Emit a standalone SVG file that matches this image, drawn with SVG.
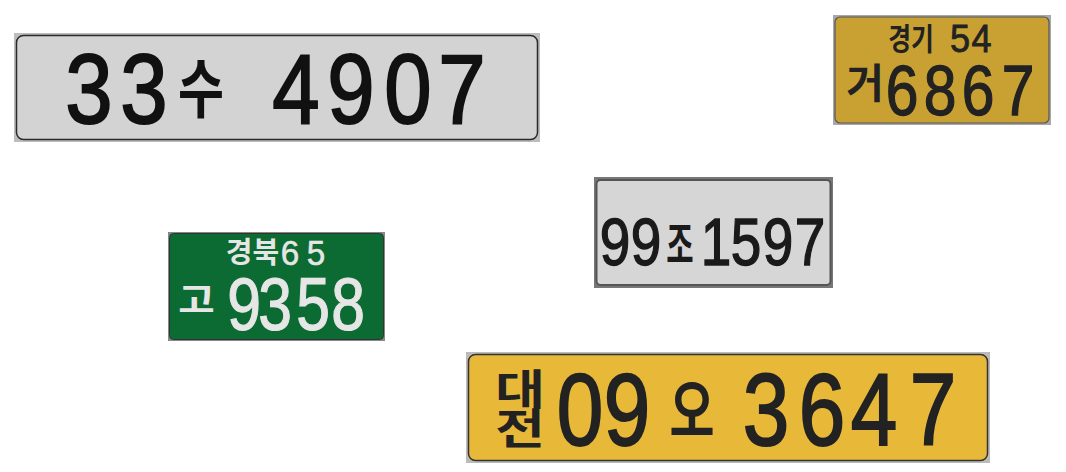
<svg xmlns="http://www.w3.org/2000/svg" width="1066" height="472" viewBox="0 0 1066 472">
<style>
.d{font-family:"Liberation Sans",Arial,sans-serif;text-anchor:middle}
.k{font-family:"Noto Sans CJK KR","Noto Sans",sans-serif;text-anchor:middle;font-weight:500}
.kb{font-family:"Noto Sans CJK KR","Noto Sans",sans-serif;text-anchor:middle;font-weight:700}
</style>
<rect width="1066" height="472" fill="#ffffff"/>
<g id="plate1">
<rect x="14" y="33" width="526" height="109" fill="#bdbdbd"/>
<rect x="16.5" y="35.5" width="521" height="104" rx="7" fill="#d3d3d3" stroke="#2a2a2a" stroke-width="1.5"/>
<g fill="#111" stroke="#111" stroke-width="2" font-size="99">
<text class="d" transform="matrix(0.86 0 0 1 89 123)">3</text>
<text class="d" transform="matrix(0.86 0 0 1 144 123)">3</text>
<text class="kb" font-size="64" stroke-width="0" transform="matrix(0.78 0 0 1 201 112)">수</text>
<text class="d" transform="matrix(0.86 0 0 1 296 123)">4</text>
<text class="d" transform="matrix(0.86 0 0 1 351 123)">9</text>
<text class="d" transform="matrix(0.86 0 0 1 408 123)">0</text>
<text class="d" transform="matrix(0.86 0 0 1 462 123)">7</text>
</g>
</g>
<g id="plate2">
<rect x="833" y="15" width="218" height="110" fill="#a8a8a8"/>
<rect x="835" y="17" width="214" height="106" rx="5" fill="#c9a133" stroke="#555" stroke-width="1.2"/>
<g fill="#222" stroke="#222">
<text class="kb" font-size="31" stroke-width="0" transform="matrix(0.8 0 0 1 911 50)">경기</text>
<text class="d" font-size="38" stroke-width="0.8" transform="matrix(0.95 0 0 1 960 52)">5</text>
<text class="d" font-size="38" stroke-width="0.8" transform="matrix(0.95 0 0 1 981.5 52)">4</text>
<text class="kb" font-size="41" stroke-width="0" transform="matrix(1 0 0 1 865 98)">거</text>
<g font-size="70" stroke-width="1.3">
<text class="d" transform="matrix(0.84 0 0 1 902 115)">6</text>
<text class="d" transform="matrix(0.84 0 0 1 940 115)">8</text>
<text class="d" transform="matrix(0.84 0 0 1 978 115)">6</text>
<text class="d" transform="matrix(0.84 0 0 1 1018 115)">7</text>
</g>
</g>
</g>
<g id="plate3">
<rect x="168" y="232" width="217" height="109" fill="#888"/>
<rect x="169.5" y="233.5" width="214" height="106" rx="4" fill="#0b6b32" stroke="#333" stroke-width="1"/>
<g fill="#e6e6e6" stroke="#e6e6e6">
<text class="kb" font-size="29" stroke-width="0" transform="matrix(1 0 0 1 252.5 263)">경북</text>
<text class="d" font-size="35" stroke-width="0.6" transform="matrix(0.95 0 0 1 290 265)">6</text>
<text class="d" font-size="35" stroke-width="0.6" transform="matrix(0.95 0 0 1 316 265)">5</text>
<text class="kb" font-size="44" stroke-width="0" transform="matrix(0.9 0 0 0.8 196.5 313)">고</text>
<g font-size="74" stroke-width="1.2">
<text class="d" transform="matrix(0.82 0 0 1 244 330)">9</text>
<text class="d" transform="matrix(0.82 0 0 1 275 330)">3</text>
<text class="d" transform="matrix(0.82 0 0 1 313 330)">5</text>
<text class="d" transform="matrix(0.82 0 0 1 348 330)">8</text>
</g>
</g>
</g>
<g id="plate4">
<rect x="594" y="177" width="239" height="111" fill="#777"/>
<rect x="596.5" y="180" width="234" height="105" rx="4" fill="#d6d6d6" stroke="#555" stroke-width="2"/>
<g fill="#1a1a1a" stroke="#1a1a1a" stroke-width="1.4" font-size="67">
<text class="d" transform="matrix(0.82 0 0 1 615 265)">9</text>
<text class="d" transform="matrix(0.82 0 0 1 646 265)">9</text>
<text class="kb" font-size="48" stroke-width="0" transform="matrix(0.62 0 0 1 680 262)">조</text>
<text class="d" transform="matrix(0.82 0 0 1 716 265)">1</text>
<text class="d" transform="matrix(0.82 0 0 1 746 265)">5</text>
<text class="d" transform="matrix(0.82 0 0 1 778 265)">9</text>
<text class="d" transform="matrix(0.82 0 0 1 810 265)">7</text>
</g>
</g>
<g id="plate5">
<rect x="466" y="352" width="524" height="111" fill="#bbb"/>
<rect x="468.5" y="354.5" width="519" height="106" rx="7" fill="#e8b839" stroke="#333" stroke-width="1.5"/>
<g fill="#222" stroke="#222" stroke-width="2" font-size="102">
<text class="kb" font-size="54" stroke-width="0" transform="matrix(1 0 0 0.78 520 405)">대</text>
<text class="kb" font-size="54" stroke-width="0" transform="matrix(1 0 0 0.78 520 444)">전</text>
<text class="d" transform="matrix(0.82 0 0 1 580 445)">0</text>
<text class="d" transform="matrix(0.82 0 0 1 627 445)">9</text>
<text class="kb" font-size="68" stroke-width="0" transform="matrix(0.72 0 0 1 692 436)">오</text>
<text class="d" transform="matrix(0.82 0 0 1 766 445)">3</text>
<text class="d" transform="matrix(0.82 0 0 1 822 445)">6</text>
<text class="d" transform="matrix(0.82 0 0 1 874 445)">4</text>
<text class="d" transform="matrix(0.82 0 0 1 933 445)">7</text>
</g>
</g>
</svg>
